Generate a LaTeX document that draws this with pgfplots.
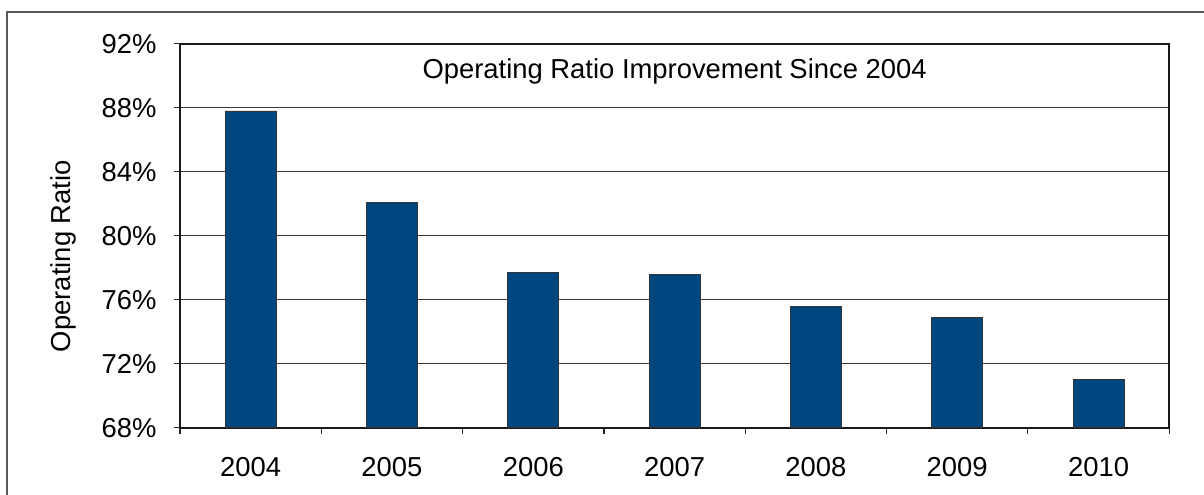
\documentclass[border=0pt]{standalone}
\usepackage{pgfplots}
\pgfplotsset{compat=1.18}
\usepackage{fontspec}
\setmainfont{Liberation Sans}
\definecolor{barblue}{RGB}{0,70,127}
\definecolor{gridgray}{RGB}{60,60,60}
\begin{document}
\fontsize{13.7}{16.4}\selectfont
\begin{tikzpicture}
\useasboundingbox (0,0) rectangle (602pt,247pt);
\draw[color=black!65, line width=0.6pt] (3.5pt,-20pt) rectangle (620pt,241pt);
\begin{axis}[
  at={(90pt,33.15pt)}, anchor=south west,
  scale only axis, width=494.6pt, height=192pt,
  xmin=-0.5, xmax=6.5, ymin=68, ymax=92,
  xtick={0,1,2,3,4,5,6},
  xticklabels={2004,2005,2006,2007,2008,2009,2010},
  minor xtick={-0.5,0.5,1.5,2.5,3.5,4.5,5.5,6.5},
  major x tick style={draw=none},
  minor tick length=3pt,
  major tick length=3pt,
  tick align=outside,
  xtick pos=bottom, ytick pos=left,
  ytick={68,72,76,80,84,88,92},
  yticklabels={68\%,72\%,76\%,80\%,84\%,88\%,92\%},
  ymajorgrids,
  major grid style={color=gridgray, line width=0.5pt},
  axis line style={line width=1.1pt, color=black!90},
  tick style={color=black!85, line width=0.6pt},
  xticklabel style={yshift=-7pt},
  yticklabel style={xshift=-4pt},
  ylabel={Operating Ratio},
  ylabel style={at={(axis description cs:-0.118,0.447)}, anchor=center, rotate=0},
  ybar, bar width=0.36,
  clip=false,
]
\addplot[fill=barblue, draw=black!80, line width=0.4pt] coordinates {
  (0,87.8) (1,82.1) (2,77.7) (3,77.6) (4,75.6) (5,74.9) (6,71.0)
};
\node at (axis description cs:0.5,0.927) {Operating Ratio Improvement Since 2004};
\end{axis}
\end{tikzpicture}
\end{document}
